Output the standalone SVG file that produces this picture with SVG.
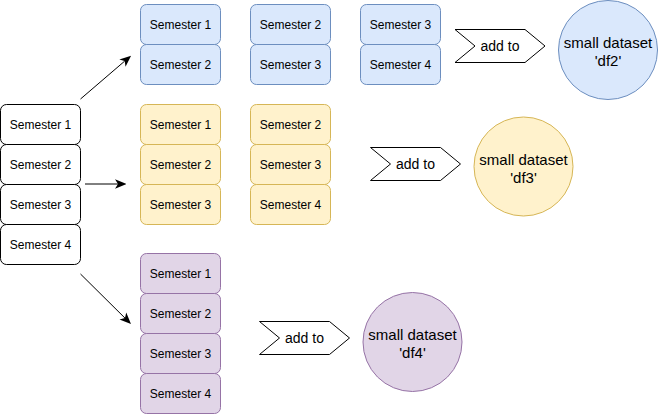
<svg xmlns="http://www.w3.org/2000/svg" width="658" height="414" viewBox="0 0 658 414">
<defs>
<style>
.box{stroke-width:1}
.w{fill:#ffffff;stroke:#000000}
.b{fill:#dae8fc;stroke:#6c8ebf}
.y{fill:#fff2cc;stroke:#d6b656}
.p{fill:#e1d5e7;stroke:#9673a6}
.lbl{font-family:"Liberation Sans",Arial,sans-serif;font-size:12px;fill:#000;text-anchor:middle}
.big{font-family:"Liberation Sans",Arial,sans-serif;font-size:15px;fill:#000;text-anchor:middle}
.add{font-family:"Liberation Sans",Arial,sans-serif;font-size:14px;fill:#000;text-anchor:middle}
.step{fill:#ffffff;stroke:#000000;stroke-width:1}
.conn{stroke:#000;stroke-width:1;fill:none;marker-end:url(#arr)}
</style>
<marker id="arr" markerUnits="userSpaceOnUse" markerWidth="12" markerHeight="12" viewBox="0 0 10 10" refX="3" refY="5" orient="auto">
<path d="M0.5,1 L10,5 L0.5,9 L3,5 z" fill="#000"/>
</marker>
</defs>

<g id="src">
<rect class="w" x="0.5" y="104.5" width="80" height="40" rx="6"/><text class="lbl" x="40.5" y="128.5">Semester 1</text>
<rect class="w" x="0.5" y="144.5" width="80" height="40" rx="6"/><text class="lbl" x="40.5" y="168.5">Semester 2</text>
<rect class="w" x="0.5" y="184.5" width="80" height="40" rx="6"/><text class="lbl" x="40.5" y="208.5">Semester 3</text>
<rect class="w" x="0.5" y="224.5" width="80" height="40" rx="6"/><text class="lbl" x="40.5" y="248.5">Semester 4</text>
</g>

<g id="blue">
<rect class="b" x="140.5" y="4.5" width="80" height="40" rx="6"/><text class="lbl" x="180.5" y="28.5">Semester 1</text>
<rect class="b" x="140.5" y="44.5" width="80" height="40" rx="6"/><text class="lbl" x="180.5" y="68.5">Semester 2</text>
<rect class="b" x="250.5" y="4.5" width="80" height="40" rx="6"/><text class="lbl" x="290.5" y="28.5">Semester 2</text>
<rect class="b" x="250.5" y="44.5" width="80" height="40" rx="6"/><text class="lbl" x="290.5" y="68.5">Semester 3</text>
<rect class="b" x="360.5" y="4.5" width="80" height="40" rx="6"/><text class="lbl" x="400.5" y="28.5">Semester 3</text>
<rect class="b" x="360.5" y="44.5" width="80" height="40" rx="6"/><text class="lbl" x="400.5" y="68.5">Semester 4</text>
</g>

<g id="yellow">
<rect class="y" x="140.5" y="104.5" width="80" height="40" rx="6"/><text class="lbl" x="180.5" y="128.5">Semester 1</text>
<rect class="y" x="140.5" y="144.5" width="80" height="40" rx="6"/><text class="lbl" x="180.5" y="168.5">Semester 2</text>
<rect class="y" x="140.5" y="184.5" width="80" height="40" rx="6"/><text class="lbl" x="180.5" y="208.5">Semester 3</text>
<rect class="y" x="250.5" y="104.5" width="80" height="40" rx="6"/><text class="lbl" x="290.5" y="128.5">Semester 2</text>
<rect class="y" x="250.5" y="144.5" width="80" height="40" rx="6"/><text class="lbl" x="290.5" y="168.5">Semester 3</text>
<rect class="y" x="250.5" y="184.5" width="80" height="40" rx="6"/><text class="lbl" x="290.5" y="208.5">Semester 4</text>
</g>

<g id="purple">
<rect class="p" x="140.5" y="253.5" width="80" height="40" rx="6"/><text class="lbl" x="180.5" y="277.5">Semester 1</text>
<rect class="p" x="140.5" y="293.5" width="80" height="40" rx="6"/><text class="lbl" x="180.5" y="317.5">Semester 2</text>
<rect class="p" x="140.5" y="333.5" width="80" height="40" rx="6"/><text class="lbl" x="180.5" y="357.5">Semester 3</text>
<rect class="p" x="140.5" y="373.5" width="80" height="40" rx="6"/><text class="lbl" x="180.5" y="397.5">Semester 4</text>
</g>

<g id="step-blue">
<polygon class="step" points="455,29.5 525,29.5 545,46 525,62.5 455,62.5 475,46"/>
<text class="add" x="500" y="51">add to</text>
</g>
<g id="step-yellow">
<polygon class="step" points="370.5,147.5 440.5,147.5 460.5,164 440.5,180.5 370.5,180.5 390.5,164"/>
<text class="add" x="415.5" y="169">add to</text>
</g>
<g id="step-purple">
<polygon class="step" points="259.5,321.5 329.5,321.5 349.5,338 329.5,354.5 259.5,354.5 279.5,338"/>
<text class="add" x="304.5" y="343">add to</text>
</g>

<g id="df2">
<circle class="b" cx="608" cy="50" r="49.5"/>
<text class="big" x="608" y="47.5">small dataset</text>
<text class="big" x="608" y="65.5">'df2'</text>
</g>
<g id="df3">
<circle class="y" cx="523.5" cy="166.5" r="49.5"/>
<text class="big" x="523.5" y="165">small dataset</text>
<text class="big" x="523.5" y="183">'df3'</text>
</g>
<g id="df4">
<circle class="p" cx="412.5" cy="342" r="49.5"/>
<text class="big" x="412.5" y="340">small dataset</text>
<text class="big" x="412.5" y="358">'df4'</text>
</g>

<g id="connectors">
<line class="conn" x1="80.5" y1="99" x2="124.7" y2="61.1"/>
<line class="conn" x1="85" y1="184" x2="118" y2="184"/>
<line class="conn" x1="80.5" y1="274" x2="125" y2="318.1"/>
</g>
</svg>
